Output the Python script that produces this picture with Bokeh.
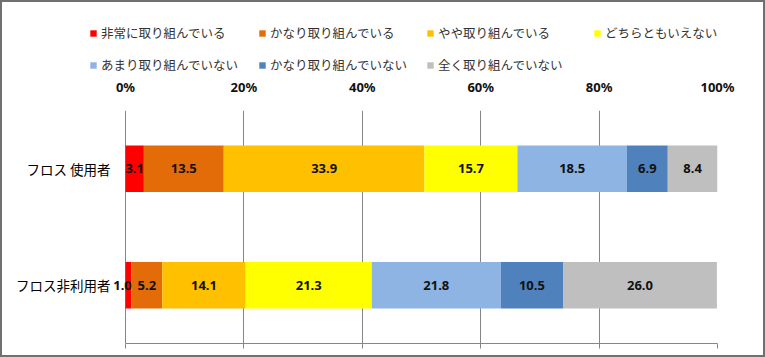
from bokeh.plotting import figure
from bokeh.layouts import column
from bokeh.models import Legend, LegendItem, FixedTicker, LinearAxis, Range1d
from bokeh.core.properties import value
from bokeh.embed import file_html
from bokeh.resources import INLINE

groups = ["フロス非利用者", "フロス 使用者"]  # bottom to top
series = ["非常に取り組んでいる", "かなり取り組んでいる", "やや取り組んでいる", "どちらともいえない",
          "あまり取り組んでいない", "かなり取り組んでいない", "全く取り組んでいない"]
colors = ["#FF0000", "#E36C09", "#FFC000", "#FFFF00", "#8DB4E2", "#4F81BD", "#BFBFBF"]
values_nonuser = [1.0, 5.2, 14.1, 21.3, 21.8, 10.5, 26.0]
values_user = [3.1, 13.5, 33.9, 15.7, 18.5, 6.9, 8.4]
tick_values = [0, 20, 40, 60, 80, 100]
tick_labels = ["0%", "20%", "40%", "60%", "80%", "100%"]

JP = "Noto Sans CJK JP"
NUM = "Noto Sans"
GRID = "#868686"
W = 761
LEG_H = 72

# ---------- legend strip ----------
lp = figure(width=W, height=LEG_H, output_backend="svg", toolbar_location=None,
            x_range=Range1d(0, 1), y_range=Range1d(0, 1),
            min_border=0, min_border_left=0, min_border_right=0, min_border_top=0, min_border_bottom=0)
lp.frame_align = False
lp.axis.visible = False
lp.grid.grid_line_color = None
lp.outline_line_color = None
lp.background_fill_color = "white"
lp.border_fill_color = "white"

leg_pos = [(87, 32), (256, 32), (424, 32), (591, 32),
           (87, 0), (256, 0), (424, 0)]
for i, name in enumerate(series):
    r = lp.hbar(y=[-5], left=[0], right=[1], height=0.5, fill_color=colors[i], line_color=None)
    lg = Legend(items=[LegendItem(label=name, renderers=[r])],
                location=leg_pos[i], padding=0, margin=0, spacing=0,
                glyph_width=8, glyph_height=8, label_standoff=4, label_height=16,
                label_text_font=JP, label_text_font_size="12.5px", label_text_color="#333333",
                border_line_color=None, background_fill_alpha=0)
    lp.add_layout(lg, "center")

# ---------- main chart ----------
# x range extends left of 0 so that labels next to the 0% line are not clipped
p = figure(width=W, height=353 - LEG_H, output_backend="svg", toolbar_location=None,
           x_range=Range1d(-20.44, 100), y_range=Range1d(-0.5, 1.5),
           x_axis_location="above", y_axis_location=None,
           min_border_left=2, min_border_right=46, min_border_top=36, min_border_bottom=12)
p.frame_align = False
p.outline_line_color = None
p.background_fill_color = "white"
p.border_fill_color = "white"

ax = p.xaxis[0]
ax.ticker = FixedTicker(ticks=tick_values)
ax.bounds = (0, 100)
ax.major_label_overrides = dict(zip(tick_values, tick_labels))
ax.axis_line_color = None
ax.major_tick_line_color = None
ax.minor_tick_line_color = None
ax.major_label_text_font = NUM
ax.major_label_text_font_style = "bold"
ax.major_label_text_font_size = "13px"
ax.major_label_text_color = "#111111"
ax.major_label_standoff = 9

bax = LinearAxis(ticker=FixedTicker(ticks=tick_values), bounds=(0, 100),
                 major_label_text_font_size="0px",
                 major_label_standoff=0, major_tick_out=5, major_tick_in=0,
                 minor_tick_line_color=None, axis_line_color=GRID, major_tick_line_color=GRID)
bax.major_label_overrides = {t: "" for t in tick_values}
p.add_layout(bax, "below")

p.xgrid.ticker = FixedTicker(ticks=tick_values)
p.xgrid.grid_line_color = GRID
p.ygrid.grid_line_color = None

# category labels, right-aligned just left of the 0% line
p.text(x=[0, 0], y=[0, 1], text=groups, x_offset=-15, text_align="right", text_baseline="middle",
       text_font=value(JP), text_font_size="13.5px", text_color="#000000")

lefts_n, lefts_u = 0.0, 0.0
lab_x, lab_y, lab_t = [], [], []
for i, name in enumerate(series):
    vn, vu = values_nonuser[i], values_user[i]
    p.hbar(y=[0, 1], left=[lefts_n, lefts_u], right=[lefts_n + vn, lefts_u + vu],
           height=0.4, fill_color=colors[i], line_color=None)
    lab_x += [lefts_n + vn / 2, lefts_u + vu / 2]
    lab_y += [0, 1]
    lab_t += [f"{vn:.1f}", f"{vu:.1f}"]
    lefts_n += vn
    lefts_u += vu

offsets = [0] * len(lab_t)
offsets[0] = -6
p.text(x=lab_x, y=lab_y, text=lab_t, x_offset=offsets, text_align="center", text_baseline="middle",
       text_font=value(NUM), text_font_style="bold", text_font_size="13px", text_color="#111111")

layout = column(lp, p, spacing=0)
layout.styles = {"border": "2px solid #707070"}

open("out.html", "w").write(file_html(layout, INLINE))
